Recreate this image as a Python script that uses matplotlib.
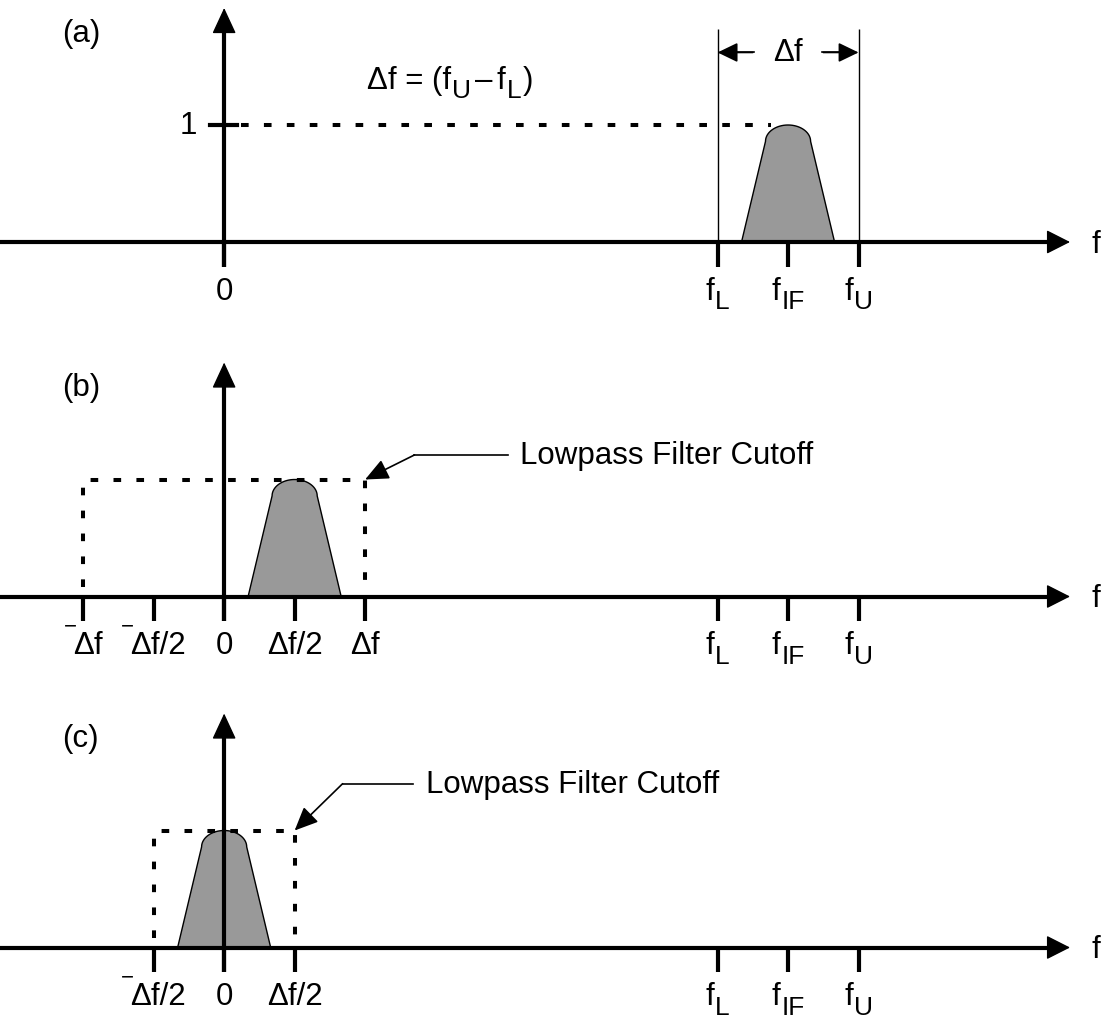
import numpy as np
import matplotlib
matplotlib.use("Agg")
import matplotlib.pyplot as plt

plt.rcParams["font.family"] = ["Liberation Sans", "DejaVu Sans"]
plt.rcParams["lines.scale_dashes"] = False

# frequencies in units of the bandwidth  df = fU - fL
f_low, f_if, f_up = 3.5, 4.0, 4.5
panel_names = ["(a)", "(b)", "(c)"]
peak_center = [f_if, 0.5, 0.0]
filter_cutoff = [None, 1.0, 0.5]
tick_pos = [
    [0.0, f_low, f_if, f_up],
    [-1.0, -0.5, 0.0, 0.5, 1.0, f_low, f_if, f_up],
    [-0.5, 0.0, 0.5, f_low, f_if, f_up],
]
tick_text = [
    ["0", "fL", "fIF", "fU"],
    ["-df", "-df/2", "0", "df/2", "df", "fL", "fIF", "fU"],
    ["-df/2", "0", "df/2", "fL", "fIF", "fU"],
]
cutoff_label = "Lowpass Filter Cutoff"

# spectrum shape (height 1 at the top)
peak_half_base = 0.33
peak_half_top = 0.16
peak_shoulder = 0.86

# layout (data units: x in df, y in amplitude)
panel_base = [0.0, -3.03, -6.03]
x_left, x_tip, y_tip = -1.59, 6.0, 2.0
tick_len = 0.21
label_drop = 0.485
leader_dx = [None, 0.35, 0.34]
leader_dy = [None, 0.21, 0.40]
leader_len = [None, 0.66, 0.50]

FS = 22.5
SUB_FS = 19

fig = plt.figure(figsize=(11.03, 10.2), dpi=100)
ax = fig.add_axes([0, 0, 1, 1])
ax.set_xlim(x_left, (1103 - 224) / 141)
ax.set_ylim((243 - 1020) / 117, 243 / 117)
ax.axis("off")
renderer = fig.canvas.get_renderer()


def rich_text(x, y, pieces, ha="center"):
    # pieces: (text, fontsize, baseline shift pt, gap before pt)
    arts, cursor = [], 0.0
    for s, fs, dy, gap in pieces:
        cursor += gap
        t = ax.annotate(s, (x, y), xytext=(cursor, dy),
                        textcoords="offset points", fontsize=fs,
                        ha="left", va="baseline")
        cursor += t.get_window_extent(renderer).width * 72 / fig.dpi
        arts.append(t)
    shift = -cursor / 2 if ha == "center" else 0.0
    for t in arts:
        t.xyann = (t.xyann[0] + shift, t.xyann[1])


def label_pieces(code):
    if code.startswith("f") and len(code) > 1:
        return [("f", FS, 0, 0), (code[1:], SUB_FS, -7, 0.8)]
    neg = code.startswith("-")
    body = code.lstrip("-").replace("df", "\u0394f")
    out = [("\u2212", 16, 16, 0)] if neg else []
    out.append((body, FS, 0, -2.5 if neg else 0))
    return out


def arrow_head(x0, y0, x1, y1, hl, hw, lw=1):
    ax.annotate("", xy=(x1, y1), xytext=(x0, y0),
                arrowprops=dict(arrowstyle=f"-|>,head_length={hl},head_width={hw}",
                                mutation_scale=20, lw=lw, color="black",
                                shrinkA=0, shrinkB=0), zorder=6)


def peak_outline(c):
    th = np.linspace(np.pi, 0, 40)
    xs = np.concatenate([[c - peak_half_base], c + peak_half_top * np.cos(th), [c + peak_half_base]])
    ys = np.concatenate([[0.0], peak_shoulder + (1 - peak_shoulder) * np.sin(th), [0.0]])
    return xs, ys


dots = dict(color="black", lw=2.9, dashes=(5.5, 11), dash_capstyle="butt", zorder=3)

for i, base in enumerate(panel_base):
    # spectrum
    xs, ys = peak_outline(peak_center[i])
    ax.fill(xs, ys + base, facecolor="#999999", edgecolor="black", lw=1, zorder=2)

    # horizontal axis with arrow
    ax.plot([x_left, x_tip - 0.08], [base, base], color="black", lw=3, zorder=5,
            solid_capstyle="butt")
    arrow_head(x_tip - 0.3, base, x_tip, base, 0.75, 0.38)
    ax.text(x_tip + 0.15, base - 0.085, "f", fontsize=FS, ha="left", va="baseline")

    # vertical axis with arrow
    ax.plot([0, 0], [base - tick_len, base + y_tip - 0.1], color="black", lw=3, zorder=5,
            solid_capstyle="butt")
    arrow_head(0, base + y_tip - 0.4, 0, base + y_tip, 0.82, 0.38)

    # ticks and labels
    ax.vlines(tick_pos[i], base - tick_len, base, color="black", lw=3, zorder=5)
    for xp, code in zip(tick_pos[i], tick_text[i]):
        rich_text(xp, base - label_drop, label_pieces(code))

    ax.text(-1.15, base + 1.79, panel_names[i], fontsize=FS, ha="left", va="center")

    # lowpass filter box and leader
    fc = filter_cutoff[i]
    if fc is not None:
        ax.plot([-fc, -fc, fc, fc], [base + 0.08, base + 1, base + 1, base + 0.08], **dots)
        ex, ey = fc + leader_dx[i], base + 1 + leader_dy[i]
        ax.plot([ex, ex + leader_len[i]], [ey, ey], color="black", lw=1.2)
        arrow_head(ex, ey, fc, base + 1.0, 0.72, 0.32, lw=1.2)
        ax.text(ex + leader_len[i] + 0.09, ey, cutoff_label, fontsize=FS,
                ha="left", va="center")

# panel (a) extras: unit level, band edges and bandwidth
b = panel_base[0]
ax.plot([-0.1, 0.09], [b + 1, b + 1], color="black", lw=3, zorder=5)
ax.text(-0.19, b + 1, "1", fontsize=FS, ha="right", va="center")
ax.plot([0.12, 3.88], [b + 1, b + 1], **dots)
ax.vlines([f_low, f_up], b, b + 1.82, color="black", lw=1, zorder=4)
arrow_head(f_low + 0.25, b + 1.62, f_low, b + 1.62, 0.62, 0.3, lw=1.2)
arrow_head(f_up - 0.25, b + 1.62, f_up, b + 1.62, 0.62, 0.3, lw=1.2)
ax.plot([f_low + 0.1, f_low + 0.26], [b + 1.62] * 2, color="black", lw=1.2)
ax.plot([f_up - 0.26, f_up - 0.1], [b + 1.62] * 2, color="black", lw=1.2)
ax.text(f_if, b + 1.62, "\u0394f", fontsize=FS, ha="center", va="center")
rich_text(1.01, b + 1.32, [("\u0394f = (f", FS, 0, 0), ("U", SUB_FS, -7, 0.8),
                           ("\u2013", FS, 0, 3), ("f", FS, 0, 3),
                           ("L", SUB_FS, -7, 0.8), (")", FS, 0, 1.5)], ha="left")

fig.savefig("out.png", dpi=100)
